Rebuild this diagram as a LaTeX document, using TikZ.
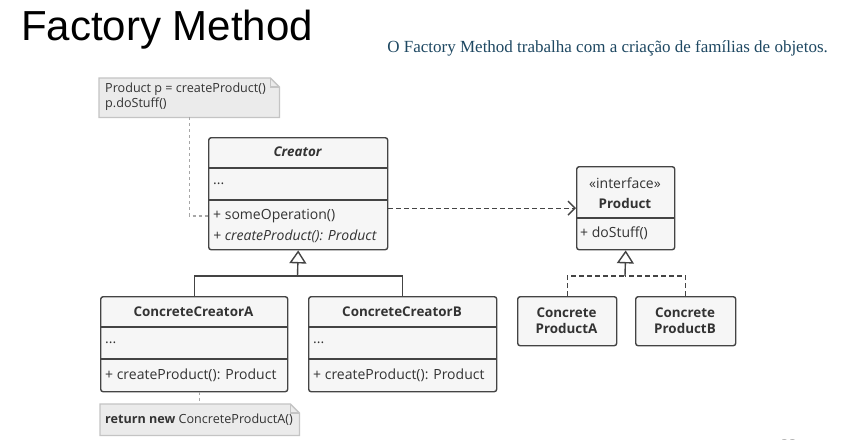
\documentclass[tikz,border=0pt]{standalone}
\usepackage{fontspec}
\usetikzlibrary{arrows.meta,calc}
\newfontfamily\umlf{Open Sans}
\newfontfamily\titlef{Liberation Sans}
\newfontfamily\subf{Liberation Serif}
\definecolor{boxline}{HTML}{444444}
\definecolor{boxfill}{HTML}{F6F6F6}
\definecolor{notefill}{HTML}{EBEBEB}
\definecolor{noteline}{HTML}{C4C4C4}
\definecolor{txt}{HTML}{333333}
\definecolor{subc}{RGB}{30,72,98}
\newcommand{\ufont}{\umlf\fontsize{14}{16}\selectfont}
\newcommand{\ubfont}{\umlf\bfseries\fontsize{13.4}{16}\selectfont}
\tikzset{
  umlbox/.style={draw=boxline, fill=boxfill, line width=1.4pt, rounded corners=2.5pt, inner sep=0pt, anchor=north west},
  notebox/.style={inner sep=0pt, anchor=north west},
  utext/.style={font=\ufont, text=txt, inner sep=0pt},
  btext/.style={font=\ubfont, text=txt, inner sep=0pt},
  ntext/.style={font=\umlf\fontsize{12.6}{14}\selectfont, text=txt, inner sep=0pt, anchor=west},
  divider/.style={draw=boxline, line width=1.4pt},
  conn/.style={draw=boxline, line width=1.4pt},
  noteconn/.style={draw=noteline!85!black, line width=1.2pt, dash pattern=on 3pt off 3pt},
  gentip/.style={-{Triangle[open, length=13pt, width=17pt, line width=1.4pt, fill=white]}},
  deptip/.style={-{Straight Barb[length=7pt, width=14pt, line width=1.4pt]}},
}
\newcommand{\drawnote}[1]{%
  \draw[draw=noteline, fill=notefill, line width=1.3pt]
    (#1.south west) -- (#1.north west) -- ($(#1.north east)+(-9,0)$)
    -- ($(#1.north east)+(0,9)$) -- (#1.south east) -- cycle;
  \draw[draw=noteline, line width=1.1pt]
    ($(#1.north east)+(-9,0)$) -- ($(#1.north east)+(-9,9)$) -- ($(#1.north east)+(0,9)$);
}
\begin{document}
\begin{tikzpicture}[x=1pt,y=-1pt]
\clip (0,0) rectangle (843,439);
\fill[white] (0,0) rectangle (843,439);

% title and subtitle
\node[font=\titlef\fontsize{42}{44}\selectfont, anchor=base west, inner sep=0pt] (title) at (21,40) {Factory Method};
\node[font=\subf\fontsize{17}{19}\selectfont, text=subc, anchor=base east, inner sep=0pt] (subtitle) at (828,52) {O Factory Method trabalha com a criação de famílias de objetos.};
\node[font=\subf\fontsize{16}{18}\selectfont, text=gray, anchor=base, inner sep=0pt] (pagenum) at (789,450) {23};

% notes
\node[notebox, minimum width=180, minimum height=39] (note1) at (99,78) {};
\drawnote{note1}
\node[ntext] (n1a) at (105,89) {Product p = createProduct()};
\node[ntext] (n1b) at (105,104) {p.doStuff()};

\node[notebox, minimum width=199, minimum height=31] (note2) at (100,404) {};
\drawnote{note2}
\node[ntext] (n2a) at (105,420) {\textbf{return new} ConcreteProductA()};

% Creator
\node[umlbox, minimum width=179, minimum height=112] (creator) at (208,137) {};
\draw[divider] (208,168) -- (387,168);
\draw[divider] (208,200) -- (387,200);
\node[btext, font=\ubfont\itshape] (crt) at (297.5,152) {Creator};
\node[utext, anchor=west] (crdots) at (213,184) {...};
\node[utext, anchor=west] (crop1) at (213,216) {+ someOperation()};
\node[utext, anchor=west] (crop2) at (213,236) {\itshape + createProduct(): Product};

% Product
\node[umlbox, minimum width=98, minimum height=83] (product) at (576,166) {};
\draw[divider] (576,218) -- (674,218);
\node[utext] (prs) at (625,183) {«interface»};
\node[btext] (prt) at (625,203) {Product};
\node[utext, anchor=west] (prop) at (580,233) {+ doStuff()};

% ConcreteCreatorA
\node[umlbox, minimum width=187, minimum height=95] (cca) at (100,296) {};
\draw[divider] (100,327) -- (287,327);
\draw[divider] (100,359) -- (287,359);
\node[btext] (ccat) at (193.5,312) {ConcreteCreatorA};
\node[utext, anchor=west] (ccadots) at (105,343) {...};
\node[utext, anchor=west] (ccaop) at (105,375) {+ createProduct(): Product};

% ConcreteCreatorB
\node[umlbox, minimum width=188, minimum height=95] (ccb) at (308,296) {};
\draw[divider] (308,327) -- (496,327);
\draw[divider] (308,359) -- (496,359);
\node[btext] (ccbt) at (402,312) {ConcreteCreatorB};
\node[utext, anchor=west] (ccbdots) at (313,343) {...};
\node[utext, anchor=west] (ccbop) at (313,375) {+ createProduct(): Product};

% Concrete products
\node[umlbox, minimum width=99, minimum height=49] (cpa) at (517,296) {};
\node[btext, align=center] (cpat) at (566.5,320.5) {Concrete\\ProductA};
\node[umlbox, minimum width=100, minimum height=49] (cpb) at (635,296) {};
\node[btext, align=center] (cpbt) at (685,320.5) {Concrete\\ProductB};

% connectors
\coordinate (jc) at (297.5,276);
\draw[conn] (cca.north) |- (jc);
\draw[conn] (ccb.north) |- (jc);
\draw[conn, gentip] (jc) -- (creator.south);

\coordinate (jp) at (625,276);
\draw[conn, dash pattern=on 5pt off 3pt] (cpa.north) |- (jp);
\draw[conn, dash pattern=on 5pt off 3pt] (cpb.north) |- (jp);
\draw[conn, gentip] (jp) -- (product.south);

\draw[conn, deptip, dash pattern=on 5pt off 3pt] (creator.east |- product.west) -- (product.west);

\draw[noteconn] (note1.south) |- (creator.west |- crop1);
\draw[noteconn] (cca.south -| note2.north) -- (note2.north);
\end{tikzpicture}
\end{document}
